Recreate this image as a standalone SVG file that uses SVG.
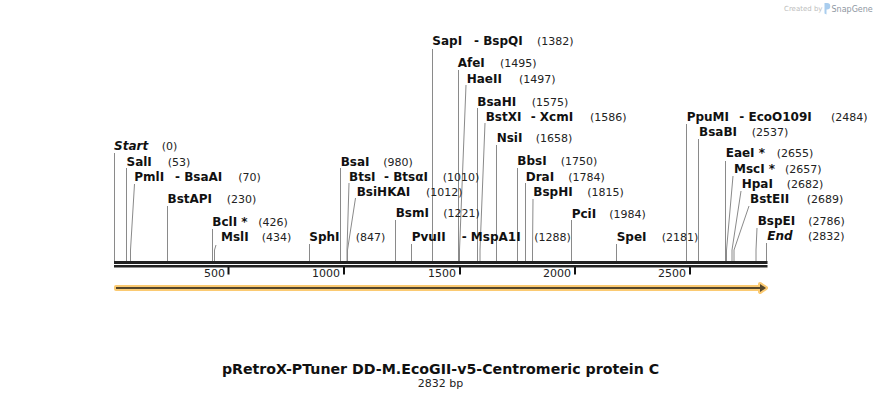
<svg xmlns="http://www.w3.org/2000/svg" width="882" height="400" viewBox="0 0 882 400">
<style>
.n{font-family:"DejaVu Sans",Verdana,sans-serif;font-size:12px;font-weight:bold;fill:#111}
.ni{font-family:"DejaVu Sans",Verdana,sans-serif;font-size:12px;font-weight:bold;font-style:italic;fill:#111}
.p{font-family:"DejaVu Sans",Verdana,sans-serif;font-size:11px;fill:#222}
.tk{font-family:"DejaVu Sans",Verdana,sans-serif;font-size:11px;fill:#222;text-anchor:end}
.ld{fill:none;stroke:#8a8a8a;stroke-width:1}
.tick{fill:#111}
</style>
<rect width="882" height="400" fill="#fff"/>
<g id="logo">
<text x="784" y="11" style="font-family:'DejaVu Sans',sans-serif;font-size:7px;fill:#bdbdbd">Created by</text>
<path d="M824.5,3 h2.5 a3,3 0 0 1 0,6.5 h-0.5 v5 l-2,-1 z" fill="#a9cdee"/>
<text x="831.5" y="11.5" style="font-family:'DejaVu Sans',sans-serif;font-size:8px;fill:#8e97a2">SnapGene</text>
</g>
<g id="backbone">
<rect x="114" y="261" width="653.5" height="3" fill="#222"/>
<rect x="114" y="265" width="653.5" height="2.5" fill="#222"/>
<rect class="tick" x="227.5" y="267" width="2" height="7.5"/>
<rect class="tick" x="343" y="267" width="2" height="7.5"/>
<rect class="tick" x="459" y="267" width="2" height="7.5"/>
<rect class="tick" x="574" y="267" width="2" height="7.5"/>
<rect class="tick" x="689" y="267" width="2" height="7.5"/>
<text class="tk" x="225" y="277">500</text>
<text class="tk" x="340" y="277">1000</text>
<text class="tk" x="456" y="277">1500</text>
<text class="tk" x="571" y="277">2000</text>
<text class="tk" x="686" y="277">2500</text>
</g>
<g id="feature">
<path d="M116,287 H760 V284 L766,288 L760,292 V289 H116 Z" fill="#fbc86b" stroke="#fbc86b" stroke-width="4" stroke-linejoin="round" opacity="0.95"/>
<path d="M116,287 H760 V284 L766,288 L760,292 V289 H116 Z" fill="#54462c"/>
</g>
<g id="connectors">
<path class="ld" d="M114.5,153 V261"/>
<path class="ld" d="M126.5,168 V261"/>
<path class="ld" d="M134.5,184 L130.5,250 V261"/>
<path class="ld" d="M167.5,206 V261"/>
<path class="ld" d="M212.5,229 V261"/>
<path class="ld" d="M216,245 L214.5,250 V261"/>
<path class="ld" d="M309.5,244 V261"/>
<path class="ld" d="M340.5,168 V261"/>
<path class="ld" d="M349,183 L347,250 V261"/>
<path class="ld" d="M355.5,198 L347.5,250 V261"/>
<path class="ld" d="M395.5,220 V261"/>
<path class="ld" d="M411.5,244 V261"/>
<path class="ld" d="M432.5,49 V261"/>
<path class="ld" d="M458.5,70 V261"/>
<path class="ld" d="M466,85 L459.5,250 V261"/>
<path class="ld" d="M477.5,108 V261"/>
<path class="ld" d="M485,123 L480,250 V261"/>
<path class="ld" d="M496.5,145 V261"/>
<path class="ld" d="M517.5,168 V261"/>
<path class="ld" d="M525.5,183 V261"/>
<path class="ld" d="M533,199 L532.5,250 V261"/>
<path class="ld" d="M571.5,220 V261"/>
<path class="ld" d="M616.5,244 V261"/>
<path class="ld" d="M686.5,124 V261"/>
<path class="ld" d="M698.5,139 V261"/>
<path class="ld" d="M725.5,161 V261"/>
<path class="ld" d="M733,176 L726.5,250 V261"/>
<path class="ld" d="M741,191 L732,250 V261"/>
<path class="ld" d="M749,206 L734,250 V261"/>
<path class="ld" d="M757,228 L756,250 V261"/>
<path class="ld" d="M766.5,243 V261"/>
</g>
<g id="start"><text class="ni" x="114" y="150">Start</text><text class="p" x="161.7" y="150">(0)</text></g>
<g id="SalI"><text class="n" x="126.5" y="165.5">SalI</text><text class="p" x="167.7" y="165.5">(53)</text></g>
<g id="PmlI"><text class="n" x="134.3" y="181">PmlI</text><text class="n" x="175" y="181">- BsaAI</text><text class="p" x="238.3" y="181">(70)</text></g>
<g id="BstAPI"><text class="n" x="167.5" y="202.7">BstAPI</text><text class="p" x="226.7" y="202.7">(230)</text></g>
<g id="BclI"><text class="n" x="212.3" y="225.7">BclI *</text><text class="p" x="258.3" y="225.7">(426)</text></g>
<g id="MslI"><text class="n" x="221" y="241">MslI</text><text class="p" x="261.7" y="241">(434)</text></g>
<g id="SphI"><text class="n" x="309.3" y="240.7">SphI</text><text class="p" x="355.7" y="240.7">(847)</text></g>
<g id="BsaI"><text class="n" x="340.7" y="165.7">BsaI</text><text class="p" x="383.3" y="165.7">(980)</text></g>
<g id="BtsI"><text class="n" x="349" y="180.7">BtsI</text><text class="n" x="384" y="180.7">- BtsαI</text><text class="p" x="442.7" y="180.7">(1010)</text></g>
<g id="BsiHKAI"><text class="n" x="356.7" y="195.7">BsiHKAI</text><text class="p" x="426" y="195.7">(1012)</text></g>
<g id="BsmI"><text class="n" x="395.7" y="217.3">BsmI</text><text class="p" x="443.3" y="217.3">(1221)</text></g>
<g id="PvuII"><text class="n" x="411.7" y="240.7">PvuII</text><text class="n" x="461.7" y="240.7">- MspA1I</text><text class="p" x="534.3" y="240.7">(1288)</text></g>
<g id="SapI"><text class="n" x="432.3" y="45">SapI</text><text class="n" x="474" y="45">- BspQI</text><text class="p" x="537" y="45">(1382)</text></g>
<g id="AfeI"><text class="n" x="457.7" y="67.3">AfeI</text><text class="p" x="500" y="67.3">(1495)</text></g>
<g id="HaeII"><text class="n" x="466.7" y="82.7">HaeII</text><text class="p" x="519" y="82.7">(1497)</text></g>
<g id="BsaHI"><text class="n" x="477.3" y="105.5">BsaHI</text><text class="p" x="531.7" y="105.5">(1575)</text></g>
<g id="BstXI"><text class="n" x="485.7" y="120.7">BstXI</text><text class="n" x="530.7" y="120.7">- XcmI</text><text class="p" x="590" y="120.7">(1586)</text></g>
<g id="NsiI"><text class="n" x="496.7" y="142.3">NsiI</text><text class="p" x="535.7" y="142.3">(1658)</text></g>
<g id="BbsI"><text class="n" x="517.3" y="165">BbsI</text><text class="p" x="560.7" y="165">(1750)</text></g>
<g id="DraI"><text class="n" x="525.7" y="180.7">DraI</text><text class="p" x="568.3" y="180.7">(1784)</text></g>
<g id="BspHI"><text class="n" x="533.3" y="196">BspHI</text><text class="p" x="587.3" y="196">(1815)</text></g>
<g id="PciI"><text class="n" x="571.7" y="217.7">PciI</text><text class="p" x="609.3" y="217.7">(1984)</text></g>
<g id="SpeI"><text class="n" x="616.7" y="240.7">SpeI</text><text class="p" x="661.7" y="240.7">(2181)</text></g>
<g id="PpuMI"><text class="n" x="686.7" y="120.7">PpuMI</text><text class="n" x="739.3" y="120.7">- EcoO109I</text><text class="p" x="831" y="120.7">(2484)</text></g>
<g id="BsaBI"><text class="n" x="699" y="135.7">BsaBI</text><text class="p" x="751.7" y="135.7">(2537)</text></g>
<g id="EaeI"><text class="n" x="725.7" y="157.3">EaeI *</text><text class="p" x="776.7" y="157.3">(2655)</text></g>
<g id="MscI"><text class="n" x="734" y="172.7">MscI *</text><text class="p" x="785" y="172.7">(2657)</text></g>
<g id="HpaI"><text class="n" x="741.7" y="187.7">HpaI</text><text class="p" x="786.7" y="187.7">(2682)</text></g>
<g id="BstEII"><text class="n" x="750" y="202.7">BstEII</text><text class="p" x="806.7" y="202.7">(2689)</text></g>
<g id="BspEI"><text class="n" x="757.7" y="225">BspEI</text><text class="p" x="808.3" y="225">(2786)</text></g>
<g id="end"><text class="ni" x="767.3" y="240">End</text><text class="p" x="808" y="240">(2832)</text></g>
<g id="title">
<text x="440.5" y="374" text-anchor="middle" style="font-family:'DejaVu Sans',Verdana,sans-serif;font-size:14.2px;font-weight:bold;fill:#111">pRetroX-PTuner DD-M.EcoGII-v5-Centromeric protein C</text>
<text x="440.5" y="387" text-anchor="middle" style="font-family:'DejaVu Sans',Verdana,sans-serif;font-size:11px;fill:#222">2832 bp</text>
</g>
</svg>
